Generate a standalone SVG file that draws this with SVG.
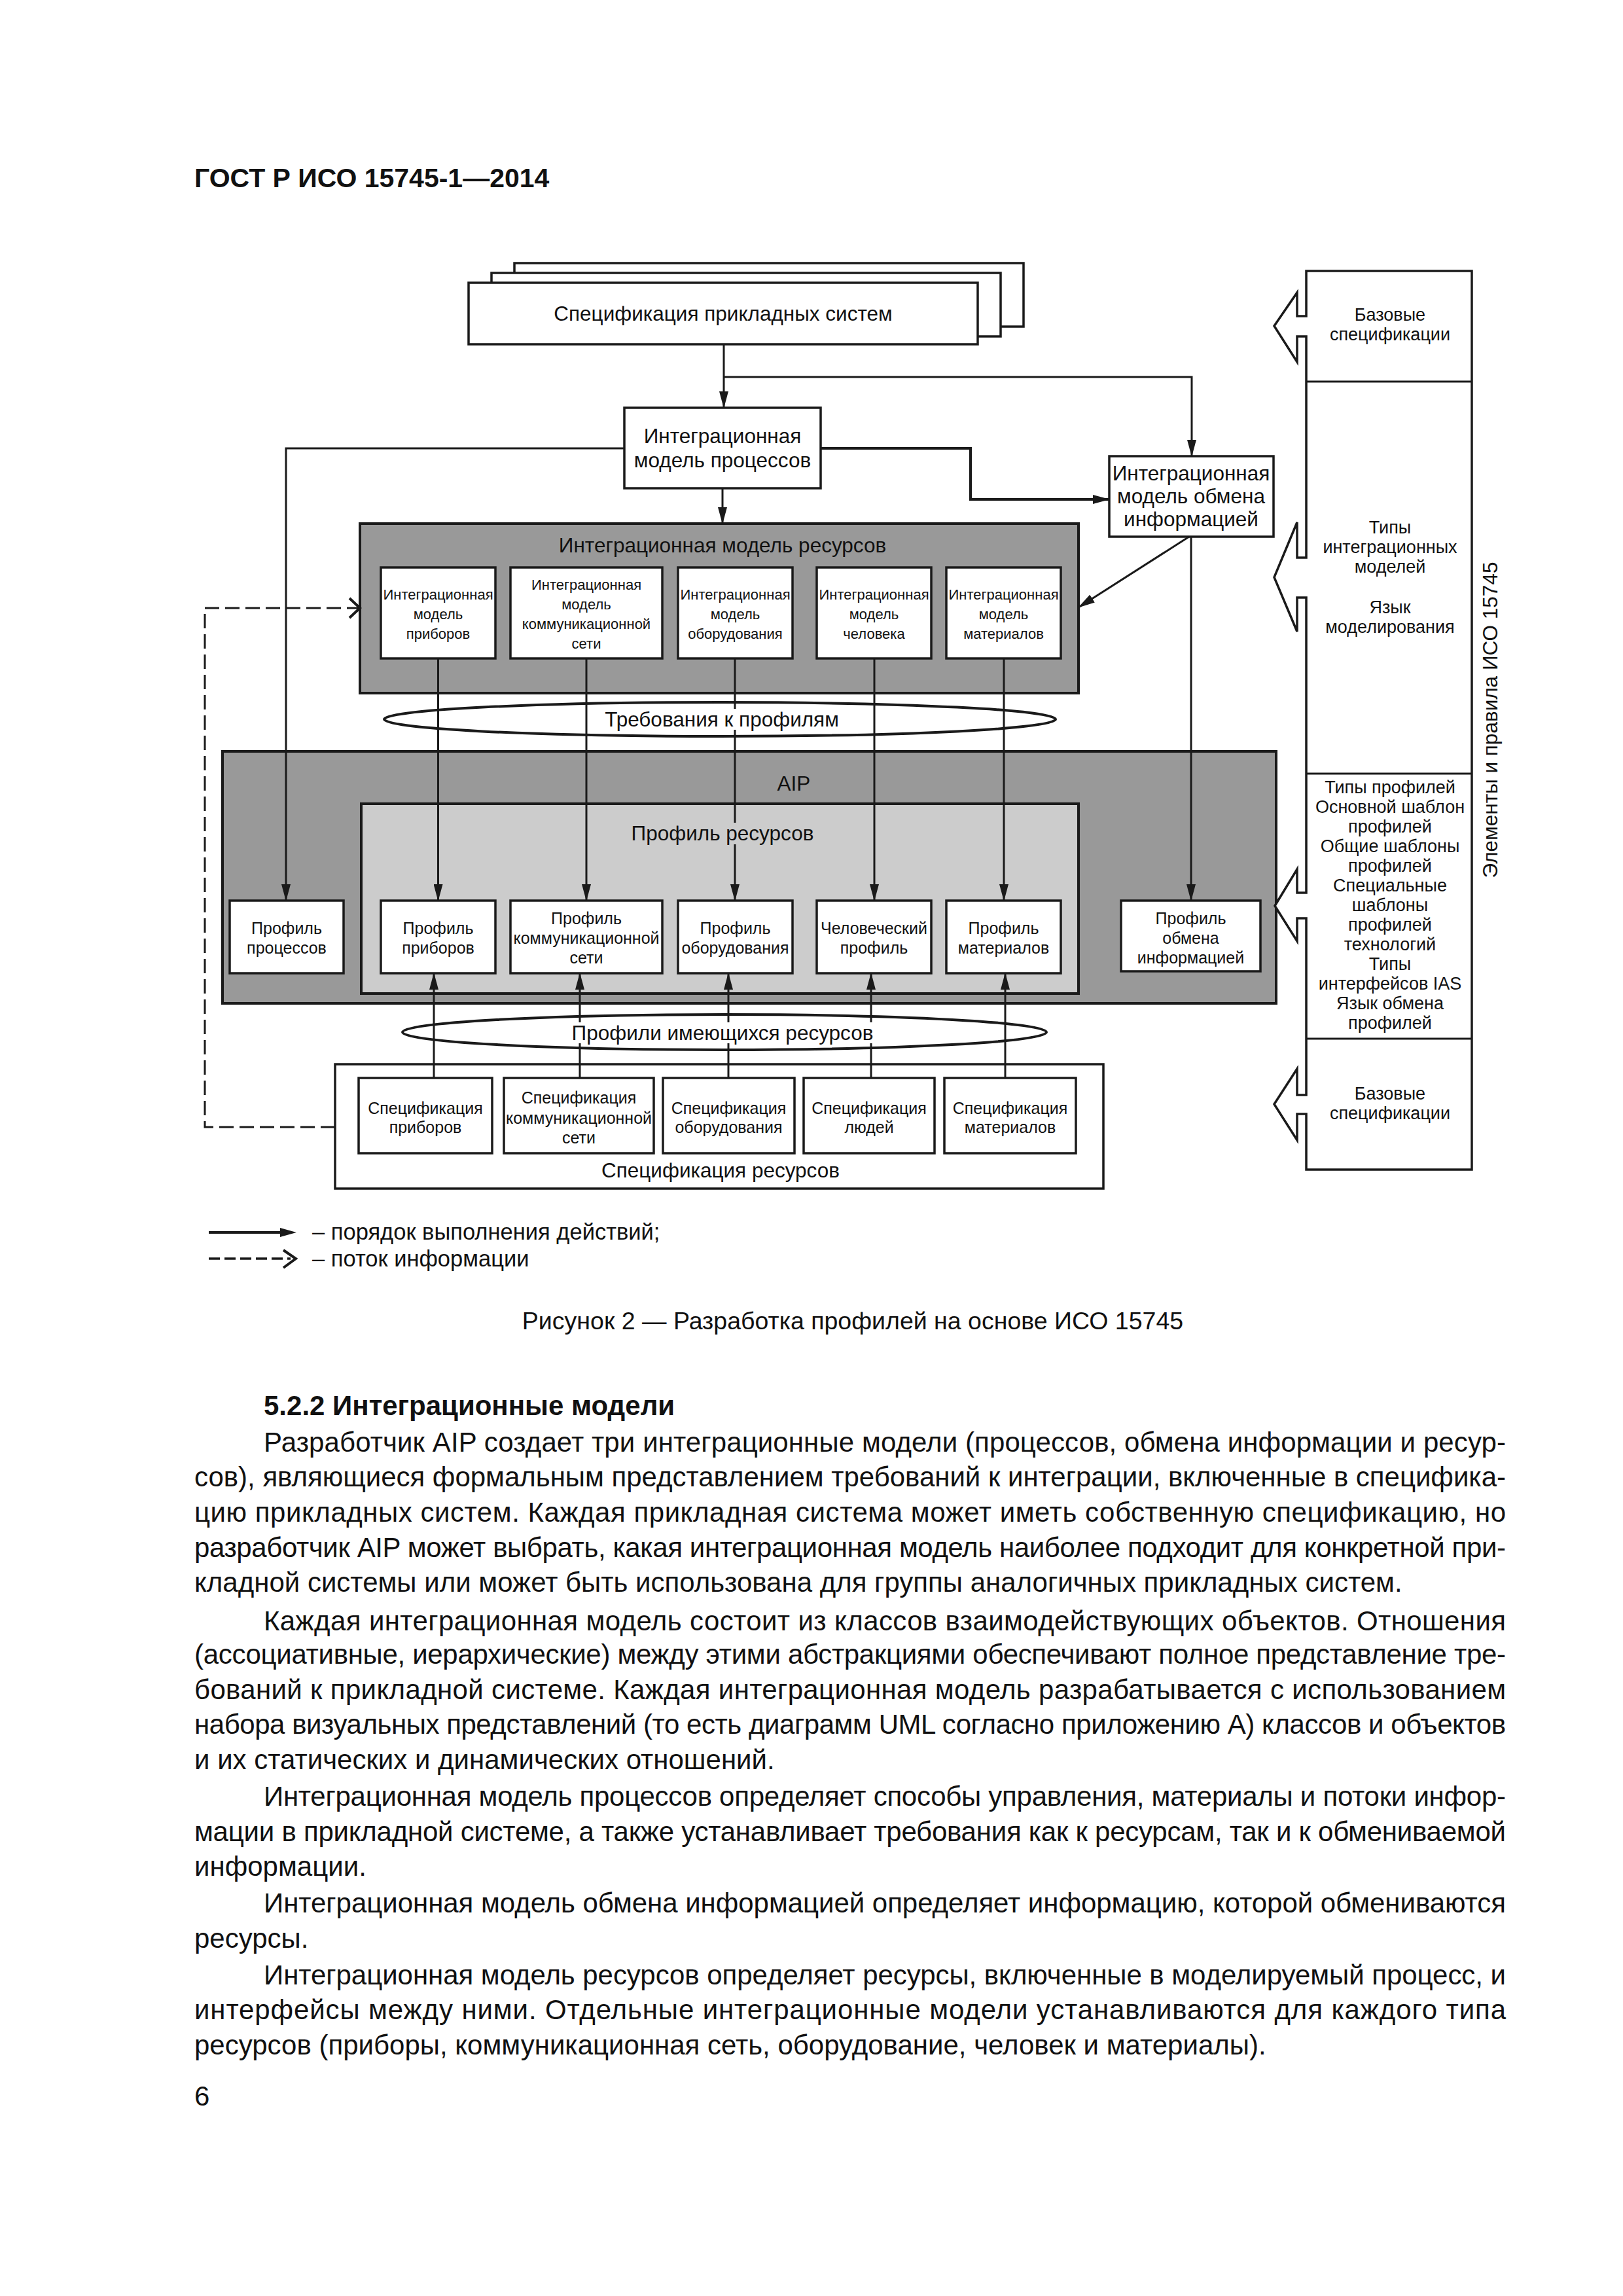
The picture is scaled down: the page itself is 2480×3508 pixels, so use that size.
<svg xmlns="http://www.w3.org/2000/svg" width="2480" height="3508" viewBox="0 0 2480 3508">
<defs>
<style>
text{font-family:"Liberation Sans",Arial,sans-serif;fill:#111}
.c{text-anchor:middle}
.f31{font-size:31.5px}
.f25{font-size:25px}
.f22{font-size:22px}
.f27{font-size:27px}
.body{font-size:42px}
.box{fill:#fff;stroke:#1a1a1a;stroke-width:3.5}
.dark{fill:#999;stroke:#1a1a1a;stroke-width:4}
.light{fill:#ccc;stroke:#1a1a1a;stroke-width:4}
.ln{fill:none;stroke:#1a1a1a;stroke-width:3}
.arr{fill:none;stroke:#1a1a1a;stroke-width:3;marker-end:url(#ah)}
.dash{fill:none;stroke:#1a1a1a;stroke-width:3;stroke-dasharray:22 9}
.ell{fill:none;stroke:#1a1a1a;stroke-width:4}
</style>
<marker id="ah" markerWidth="26" markerHeight="14" refX="25" refY="7" orient="auto" markerUnits="userSpaceOnUse">
<path d="M0,0 L26,7 L0,14 Z" fill="#1a1a1a"/>
</marker>
</defs>
<rect width="2480" height="3508" fill="#fff"/>

<text x="297" y="286" style="font-size:41px;font-weight:bold">ГОСТ Р ИСО 15745-1—2014</text>

<!-- Nodes -->
<g id="app-spec">
<rect class="box" x="786" y="402" width="778" height="97"/>
<rect class="box" x="751" y="417" width="778" height="97"/>
<rect class="box" x="716" y="432" width="778" height="94"/>
<text class="c f31" x="1105" y="490">Спецификация прикладных систем</text>
</g>

<g id="process-model">
<rect class="box" x="954" y="623" width="300" height="123"/>
<text class="c f31" x="1104" y="677">Интеграционная</text>
<text class="c f31" x="1104" y="714">модель процессов</text>
</g>

<g id="exchange-model">
<rect class="box" x="1695" y="697" width="251" height="123"/>
<text class="c f31" x="1820" y="734">Интеграционная</text>
<text class="c f31" x="1820" y="769">модель обмена</text>
<text class="c f31" x="1820" y="804">информацией</text>
</g>

<g id="resource-model">
<rect class="dark" x="550" y="800" width="1098" height="259"/>
<text class="c f31" x="1104" y="844">Интеграционная модель ресурсов</text>
<g id="rm-devices">
<rect class="box" x="582" y="867" width="175" height="139"/>
<text class="c f22" x="669.5" y="916">Интеграционная</text>
<text class="c f22" x="669.5" y="946">модель</text>
<text class="c f22" x="669.5" y="976">приборов</text>
</g>
<g id="rm-network">
<rect class="box" x="780" y="867" width="232" height="139"/>
<text class="c f22" x="896" y="901">Интеграционная</text>
<text class="c f22" x="896" y="931">модель</text>
<text class="c f22" x="896" y="961">коммуникационной</text>
<text class="c f22" x="896" y="991">сети</text>
</g>
<g id="rm-equipment">
<rect class="box" x="1036" y="867" width="175" height="139"/>
<text class="c f22" x="1123.5" y="916">Интеграционная</text>
<text class="c f22" x="1123.5" y="946">модель</text>
<text class="c f22" x="1123.5" y="976">оборудования</text>
</g>
<g id="rm-human">
<rect class="box" x="1248" y="867" width="175" height="139"/>
<text class="c f22" x="1335.5" y="916">Интеграционная</text>
<text class="c f22" x="1335.5" y="946">модель</text>
<text class="c f22" x="1335.5" y="976">человека</text>
</g>
<g id="rm-materials">
<rect class="box" x="1446" y="867" width="175" height="139"/>
<text class="c f22" x="1533.5" y="916">Интеграционная</text>
<text class="c f22" x="1533.5" y="946">модель</text>
<text class="c f22" x="1533.5" y="976">материалов</text>
</g>
</g>

<g id="req-profiles">
<ellipse class="ell" cx="1100" cy="1099" rx="513" ry="26"/>
</g>

<g id="aip">
<rect class="dark" x="340" y="1148" width="1610" height="385"/>
<text class="c f31" x="1213" y="1208">AIP</text>
<g id="resource-profile">
<rect class="light" x="552" y="1228" width="1096" height="290"/>
</g>
<g id="p-processes">
<rect class="box" x="351" y="1376" width="174" height="111"/>
<text class="c f25" x="438" y="1427">Профиль</text>
<text class="c f25" x="438" y="1457">процессов</text>
</g>
<g id="p-devices">
<rect class="box" x="582" y="1376" width="175" height="111"/>
<text class="c f25" x="669.5" y="1427">Профиль</text>
<text class="c f25" x="669.5" y="1457">приборов</text>
</g>
<g id="p-network">
<rect class="box" x="780" y="1376" width="232" height="111"/>
<text class="c f25" x="896" y="1412">Профиль</text>
<text class="c f25" x="896" y="1442">коммуникационной</text>
<text class="c f25" x="896" y="1472">сети</text>
</g>
<g id="p-equipment">
<rect class="box" x="1036" y="1376" width="175" height="111"/>
<text class="c f25" x="1123.5" y="1427">Профиль</text>
<text class="c f25" x="1123.5" y="1457">оборудования</text>
</g>
<g id="p-human">
<rect class="box" x="1248" y="1376" width="175" height="111"/>
<text class="c f25" x="1335.5" y="1427">Человеческий</text>
<text class="c f25" x="1335.5" y="1457">профиль</text>
</g>
<g id="p-materials">
<rect class="box" x="1446" y="1376" width="175" height="111"/>
<text class="c f25" x="1533.5" y="1427">Профиль</text>
<text class="c f25" x="1533.5" y="1457">материалов</text>
</g>
<g id="p-exchange">
<rect class="box" x="1713" y="1376" width="213" height="108"/>
<text class="c f25" x="1819.5" y="1412">Профиль</text>
<text class="c f25" x="1819.5" y="1442">обмена</text>
<text class="c f25" x="1819.5" y="1472">информацией</text>
</g>
</g>

<g id="available-profiles">
<ellipse class="ell" cx="1107" cy="1577" rx="492" ry="27"/>
</g>

<g id="resource-spec">
<rect class="box" x="512" y="1626" width="1174" height="190"/>
<text class="c f31" x="1101" y="1799">Спецификация ресурсов</text>
<g id="s-devices">
<rect class="box" x="548" y="1647" width="204" height="115"/>
<text class="c f25" x="650" y="1702">Спецификация</text>
<text class="c f25" x="650" y="1731">приборов</text>
</g>
<g id="s-network">
<rect class="box" x="770" y="1647" width="229" height="115"/>
<text class="c f25" x="884.5" y="1686">Спецификация</text>
<text class="c f25" x="884.5" y="1717">коммуникационной</text>
<text class="c f25" x="884.5" y="1747">сети</text>
</g>
<g id="s-equipment">
<rect class="box" x="1013" y="1647" width="201" height="115"/>
<text class="c f25" x="1113.5" y="1702">Спецификация</text>
<text class="c f25" x="1113.5" y="1731">оборудования</text>
</g>
<g id="s-people">
<rect class="box" x="1228" y="1647" width="200" height="115"/>
<text class="c f25" x="1328" y="1702">Спецификация</text>
<text class="c f25" x="1328" y="1731">людей</text>
</g>
<g id="s-materials">
<rect class="box" x="1443" y="1647" width="201" height="115"/>
<text class="c f25" x="1543.5" y="1702">Спецификация</text>
<text class="c f25" x="1543.5" y="1731">материалов</text>
</g>
</g>

<g id="iso-elements">
<path class="box" d="M1996,414 H2249 V1787 H1996 V1702 H1982 V1742 L1947,1687 L1982,1633 V1673 H1996 V1403 H1982 V1438 L1948,1384 L1982,1328 V1364 H1996 V913 H1982 V965 L1947,882 L1982,798 V852 H1996 V514 H1982 V553 L1947,498 L1982,447 V483 H1996 Z"/>
<line class="ln" x1="1996" y1="583" x2="2249" y2="583"/>
<line class="ln" x1="1996" y1="1182" x2="2249" y2="1182"/>
<line class="ln" x1="1996" y1="1587" x2="2249" y2="1587"/>
<text class="c f27" x="2124" y="490">Базовые</text>
<text class="c f27" x="2124" y="520">спецификации</text>
<text class="c f27" x="2124" y="815">Типы</text>
<text class="c f27" x="2124" y="845">интеграционных</text>
<text class="c f27" x="2124" y="875">моделей</text>
<text class="c f27" x="2124" y="937">Язык</text>
<text class="c f27" x="2124" y="967">моделирования</text>
<text class="c f27" x="2124" y="1212">Типы профилей</text>
<text class="c f27" x="2124" y="1242">Основной шаблон</text>
<text class="c f27" x="2124" y="1272">профилей</text>
<text class="c f27" x="2124" y="1302">Общие шаблоны</text>
<text class="c f27" x="2124" y="1332">профилей</text>
<text class="c f27" x="2124" y="1362">Специальные</text>
<text class="c f27" x="2124" y="1392">шаблоны</text>
<text class="c f27" x="2124" y="1422">профилей</text>
<text class="c f27" x="2124" y="1452">технологий</text>
<text class="c f27" x="2124" y="1482">Типы</text>
<text class="c f27" x="2124" y="1512">интерфейсов IAS</text>
<text class="c f27" x="2124" y="1542">Язык обмена</text>
<text class="c f27" x="2124" y="1572">профилей</text>
<text class="c f27" x="2124" y="1680">Базовые</text>
<text class="c f27" x="2124" y="1710">спецификации</text>
<text class="c f31" transform="translate(2288,1100) rotate(-90)">Элементы и правила ИСО 15745</text>
</g>

<!-- Connectors -->
<g id="connectors">
<line class="arr" x1="1106" y1="526" x2="1106" y2="623"/>
<polyline class="arr" points="1106,576 1821,576 1821,697"/>
<line class="arr" x1="1104" y1="746" x2="1104" y2="800"/>
<polyline class="arr" points="954,685 437,685 437,1376"/>
<polyline class="arr" points="1254,685 1483,685 1483,763 1695,763" style="stroke-width:4"/>
<line class="arr" x1="1817" y1="820" x2="1648" y2="928"/>
<line class="arr" x1="1820" y1="820" x2="1820" y2="1376"/>
<line class="arr" x1="669.5" y1="1006" x2="669.5" y2="1376"/>
<line class="arr" x1="896" y1="1006" x2="896" y2="1376"/>
<line class="arr" x1="1123" y1="1006" x2="1123" y2="1376"/>
<line class="arr" x1="1336" y1="1006" x2="1336" y2="1376"/>
<line class="arr" x1="1534" y1="1006" x2="1534" y2="1376"/>
<line class="arr" x1="663" y1="1647" x2="663" y2="1487"/>
<line class="arr" x1="886" y1="1647" x2="886" y2="1487"/>
<line class="arr" x1="1113" y1="1647" x2="1113" y2="1487"/>
<line class="arr" x1="1331" y1="1647" x2="1331" y2="1487"/>
<line class="arr" x1="1536" y1="1647" x2="1536" y2="1487"/>
<polyline class="dash" points="512,1722 313,1722 313,929 548,929"/>
<polyline class="ln" points="534,914 550,929 534,944" style="stroke-width:4"/>
</g>

<!-- Labels over connectors -->
<g id="labels">
<rect x="924" y="1083" width="358" height="32" fill="#fff"/>
<text class="c f31" x="1103" y="1110">Требования к профилям</text>
<rect x="964" y="1257" width="280" height="33" fill="#ccc"/>
<text class="c f31" x="1104" y="1284">Профиль ресурсов</text>
<rect x="874" y="1562" width="460" height="32" fill="#fff"/>
<text class="c f31" x="1104" y="1589">Профили имеющихся ресурсов</text>
</g>

<!-- Legend -->
<g id="legend">
<line class="ln" x1="319" y1="1883" x2="430" y2="1883" style="stroke-width:4"/>
<path d="M428,1876 L453,1883 L428,1890 Z" fill="#1a1a1a"/>
<text x="477" y="1894" style="font-size:34.5px">– порядок выполнения действий;</text>
<line x1="319" y1="1923" x2="444" y2="1923" style="stroke:#1a1a1a;stroke-width:3.5;stroke-dasharray:17 7"/>
<polyline class="ln" points="433,1910 452,1923 433,1937" style="stroke-width:4"/>
<text x="477" y="1935" style="font-size:34.5px">– поток информации</text>
</g>

<text class="c" x="1303" y="2031" style="font-size:37.5px">Рисунок 2 — Разработка профилей на основе ИСО 15745</text>

<!-- Body text -->
<g id="body">
<text x="403" y="2162" style="font-size:42px;font-weight:bold">5.2.2  Интеграционные модели</text>
<text class="body" x="403" y="2218" textLength="1898" lengthAdjust="spacing">Разработчик AIP создает три интеграционные модели (процессов, обмена информации и ресур-</text>
<text class="body" x="297" y="2271" textLength="2004" lengthAdjust="spacing">сов), являющиеся формальным представлением требований к интеграции, включенные в специфика-</text>
<text class="body" x="297" y="2325" textLength="2004" lengthAdjust="spacing">цию прикладных систем. Каждая прикладная система может иметь собственную спецификацию, но</text>
<text class="body" x="297" y="2379" textLength="2004" lengthAdjust="spacing">разработчик AIP может выбрать, какая интеграционная модель наиболее подходит для конкретной при-</text>
<text class="body" x="297" y="2432">кладной системы или может быть использована для группы аналогичных прикладных систем.</text>
<text class="body" x="403" y="2491" textLength="1898" lengthAdjust="spacing">Каждая интеграционная модель состоит из классов взаимодействующих объектов. Отношения</text>
<text class="body" x="297" y="2542" textLength="2004" lengthAdjust="spacing">(ассоциативные, иерархические) между этими абстракциями обеспечивают полное представление тре-</text>
<text class="body" x="297" y="2596" textLength="2004" lengthAdjust="spacing">бований к прикладной системе. Каждая интеграционная модель разрабатывается с использованием</text>
<text class="body" x="297" y="2649" textLength="2004" lengthAdjust="spacing">набора визуальных представлений (то есть диаграмм UML согласно приложению А) классов и объектов</text>
<text class="body" x="297" y="2703">и их статических и динамических отношений.</text>
<text class="body" x="403" y="2759" textLength="1898" lengthAdjust="spacing">Интеграционная модель процессов определяет способы управления, материалы и потоки инфор-</text>
<text class="body" x="297" y="2813" textLength="2004" lengthAdjust="spacing">мации в прикладной системе, а также устанавливает требования как к ресурсам, так и к обмениваемой</text>
<text class="body" x="297" y="2866">информации.</text>
<text class="body" x="403" y="2922" textLength="1898" lengthAdjust="spacing">Интеграционная модель обмена информацией определяет информацию, которой обмениваются</text>
<text class="body" x="297" y="2976">ресурсы.</text>
<text class="body" x="403" y="3032" textLength="1898" lengthAdjust="spacing">Интеграционная модель ресурсов определяет ресурсы, включенные в моделируемый процесс, и</text>
<text class="body" x="297" y="3085" textLength="2004" lengthAdjust="spacing">интерфейсы между ними. Отдельные интеграционные модели устанавливаются для каждого типа</text>
<text class="body" x="297" y="3139">ресурсов (приборы, коммуникационная сеть, оборудование, человек и материалы).</text>
<text class="body" x="297" y="3217">6</text>
</g>
</svg>
